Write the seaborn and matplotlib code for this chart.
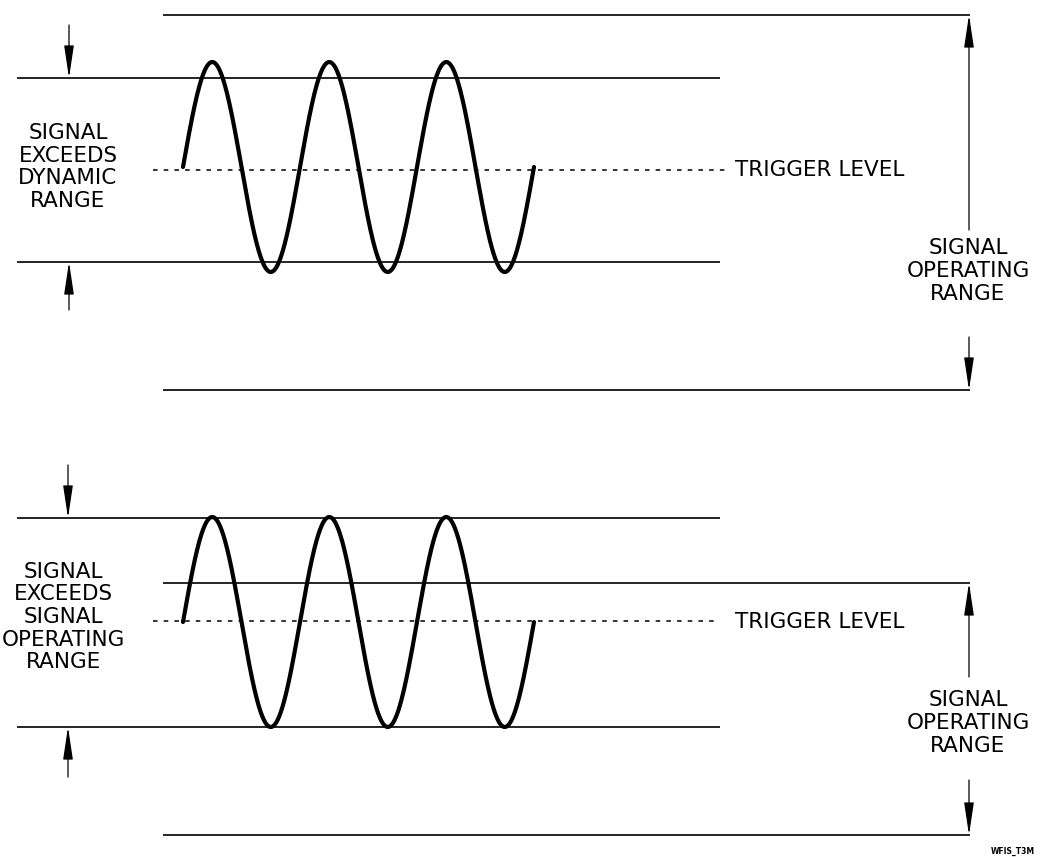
import matplotlib

matplotlib.use('Agg')

import matplotlib.pyplot as plt
import seaborn as sns
import numpy as np
import pandas as pd

# 图中读取的数值（像素坐标，y 向下）
# 上半图
top_long_lines = [15, 390]       # 长线（右侧 signal operating range）
top_short_lines = [78, 262]      # 短线（dynamic range）
top_trigger = 170
top_wave_mid = 167
# 下半图
bottom_long_lines = [583, 835]
bottom_short_lines = [518, 727]
bottom_trigger = 621
bottom_wave_mid = 622

# 正弦波参数
wave_start = 183
wave_period = 117
wave_amplitude = 105
wave_cycles = 3

left_labels = ["SIGNAL\nEXCEEDS\nDYNAMIC\nRANGE",
               "SIGNAL\nEXCEEDS\nSIGNAL\nOPERATING\nRANGE"]
right_label = "SIGNAL\nOPERATING\nRANGE"
trigger_label = "TRIGGER LEVEL"
figure_id = "WFIS_T3M"

sns.set_theme(style="white")
plt.rcParams['font.family'] = ['DejaVu Sans']
plt.rcParams['text.color'] = 'black'

fig = plt.figure(figsize=(10.5, 8.57), dpi=100)
ax = fig.add_axes([0, 0, 1, 1])

# 波形数据
frames = []
for name, mid in [("top", top_wave_mid), ("bottom", bottom_wave_mid)]:
    x = np.linspace(wave_start, wave_start + wave_cycles * wave_period, 600)
    y = mid - wave_amplitude * np.sin(2 * np.pi * (x - wave_start) / wave_period)
    frames.append(pd.DataFrame({"x": x, "y": y, "panel": name}))
wave = pd.concat(frames)

sns.lineplot(data=wave, x="x", y="y", units="panel", estimator=None, sort=False,
             color="black", linewidth=3.0, ax=ax)
ax.axis('off')
ax.set_xlim(0, 1050)
ax.set_ylim(857, 0)

# 水平线
ax.hlines(top_long_lines + bottom_long_lines, 163, 970, color="black", linewidth=1.2)
ax.hlines(top_short_lines + bottom_short_lines, 17, 720, color="black", linewidth=1.2)
ax.hlines([top_trigger], 153, 725, color="black", linewidth=1.1, linestyles=(0, (3, 4)))
ax.hlines([bottom_trigger], 153, 715, color="black", linewidth=1.1, linestyles=(0, (3, 4)))

# 箭头
arrow_kw = dict(arrowstyle='-|>,head_length=1.0,head_width=0.15', color='black',
                lw=0.9, shrinkA=0, shrinkB=0, mutation_scale=20)


def arrow(x, y_from, y_to):
    ax.annotate("", xy=(x, y_to), xytext=(x, y_from), arrowprops=arrow_kw)


# 左侧箭头
arrow(69, 25, top_short_lines[0])
arrow(69, 310, top_short_lines[1])
arrow(68, 465, bottom_short_lines[0])
arrow(68, 777, bottom_short_lines[1])
# 右侧箭头
arrow(969, 230, top_long_lines[0])
arrow(969, 337, top_long_lines[1])
arrow(969, 677, bottom_long_lines[0])
arrow(969, 780, bottom_long_lines[1])

# 文字
text_kw = dict(fontsize=15.5, color='black', linespacing=1.16, ha='center', va='center')
ax.text(68, 167, left_labels[0], **text_kw)
ax.text(63, 617, left_labels[1], **text_kw)
ax.text(968, 271, right_label, **text_kw)
ax.text(968, 723, right_label, **text_kw)
ax.text(735, top_trigger, trigger_label, fontsize=15.5, color='black', ha='left', va='center')
ax.text(735, bottom_trigger + 1, trigger_label, fontsize=15.5, color='black', ha='left', va='center')
ax.text(1035, 851, figure_id, fontsize=5.5, fontweight='bold', color='black', ha='right', va='center')

fig.savefig("out.png", dpi=100)
